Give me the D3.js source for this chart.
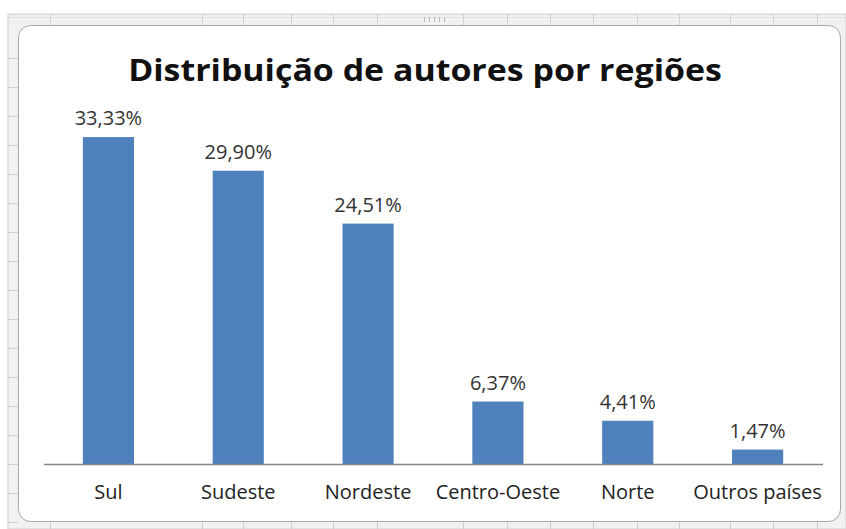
<!DOCTYPE html>
<html>
<head>
<meta charset="utf-8">
<script src="https://cdn.jsdelivr.net/npm/d3@7/dist/d3.min.js"></script>
<style>
  html, body { margin: 0; padding: 0; background: #fff; }
  svg { display: block; font-family: "Open Sans", "DejaVu Sans", sans-serif; }
</style>
</head>
<body>
<div class="chart"></div>
<script>
// dados do grafico
var regioes = ["Sul", "Sudeste", "Nordeste", "Centro-Oeste", "Norte", "Outros países"];
var percentuais = [33.33, 29.90, 24.51, 6.37, 4.41, 1.47];
var titulo = "Distribuição de autores por regiões";

// colunas / linhas da planilha por tras do grafico (decoracao)
var colunasGrade = [50, 202, 243, 291, 333, 377, 463, 507, 550, 593, 637, 679, 730, 773, 817];

var svg_w = 846;
var svg_h = 529;
var svg = d3.select("div.chart").append("svg")
  .attr("width", svg_w)
  .attr("height", svg_h);

// faixa cinza da planilha
svg.append("rect")
  .attr("x", 8).attr("y", 14)
  .attr("width", svg_w - 8).attr("height", svg_h - 14)
  .attr("fill", "#f1f1f1")
  .attr("stroke", "#d0d0d0");

var grade = svg.append("g").attr("stroke", "#cfcfcf").attr("stroke-width", 1);
colunasGrade.forEach(function(cx) {
  grade.append("line").attr("x1", cx + 0.5).attr("x2", cx + 0.5).attr("y1", 14).attr("y2", svg_h);
});
for (var ry = 58; ry < svg_h; ry += 29) {
  grade.append("line").attr("x1", 8).attr("x2", 18).attr("y1", ry + 0.5).attr("y2", ry + 0.5);
}
grade.append("line").attr("x1", 8).attr("x2", svg_w).attr("y1", 17.5).attr("y2", 17.5).attr("stroke", "#dedede");
// alca do meio
for (var hx = 424; hx <= 445; hx += 5) {
  grade.append("line").attr("x1", hx + 0.5).attr("x2", hx + 0.5).attr("y1", 17).attr("y2", 22).attr("stroke", "#b8b8b8");
}

// area do grafico
svg.append("rect")
  .attr("x", 18.5).attr("y", 25.5)
  .attr("width", 822).attr("height", 496)
  .attr("rx", 12).attr("ry", 12)
  .attr("fill", "#ffffff")
  .attr("stroke", "#a9a9a9");

var x = d3.scaleBand()
  .domain(regioes)
  .range([43.5, 822.5])
  .paddingInner(0.606)
  .paddingOuter(0.303);

var y = d3.scaleLinear()
  .domain([0, 35])
  .range([464, 120.7]);

var dados = regioes.map(function(r, i) {
  return { regiao: r, valor: percentuais[i] };
});

var br = d3.formatLocale({ decimal: ",", thousands: ".", grouping: [3], currency: ["R$", ""] });
var fmt = br.format(".2f");

// barras
svg.append("g")
  .selectAll("rect")
  .data(dados)
  .enter()
  .append("rect")
  .attr("x", function(d) { return x(d.regiao); })
  .attr("y", function(d) { return y(d.valor); })
  .attr("width", x.bandwidth())
  .attr("height", function(d) { return y(0) - y(d.valor); })
  .attr("fill", "#4f81bd");

// rotulos de valor
svg.append("g")
  .selectAll("text")
  .data(dados)
  .enter()
  .append("text")
  .attr("x", function(d) { return x(d.regiao) + x.bandwidth() / 2; })
  .attr("y", function(d) { return y(d.valor) - 12; })
  .attr("text-anchor", "middle")
  .attr("font-size", 20)
  .attr("fill", "#333")
  .text(function(d) { return fmt(d.valor) + "%"; });

// eixo x
var eixo = svg.append("g")
  .attr("transform", "translate(0," + y(0) + ")")
  .call(d3.axisBottom(x).tickSize(0).tickPadding(21));
eixo.select(".domain").attr("stroke", "#868686").attr("stroke-width", 1.5);
eixo.selectAll("text")
  .attr("font-family", "\"Open Sans\", sans-serif")
  .attr("font-size", 20)
  .attr("fill", "#222");

// titulo, esticado para a largura do original
var t = svg.append("text")
  .attr("text-anchor", "middle")
  .attr("font-size", 30)
  .attr("font-weight", "bold")
  .attr("fill", "#111")
  .text(titulo);
var larg = t.node().getComputedTextLength();
var k = 594 / larg;
t.attr("transform", "translate(425,81) scale(" + k + ",1)");
</script>
</body>
</html>
